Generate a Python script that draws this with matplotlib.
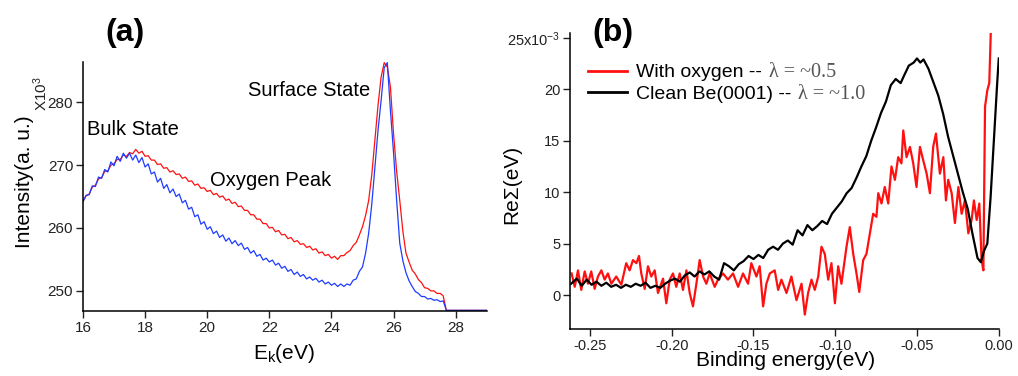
import numpy as np
import matplotlib
matplotlib.use("Agg")
import matplotlib.pyplot as plt

plt.rcParams['font.family'] = ['Liberation Sans', 'DejaVu Sans']
plt.rcParams['mathtext.fontset'] = 'custom'
plt.rcParams['mathtext.rm'] = 'Liberation Sans'
plt.rcParams['mathtext.it'] = 'Liberation Sans:italic'
plt.rcParams['axes.unicode_minus'] = False

# ---------------- Panel (a): photoemission intensity vs kinetic energy ----------------
energy_a = np.round(np.arange(16.0, 29.05, 0.1), 1)

intensity_oxygen = [
    264.2, 265.1, 265.4, 266.5, 266.8, 267.8, 268.0, 269.0, 269.1, 270.0,
    270.2, 270.9, 270.9, 271.6, 271.4, 272.0, 271.8, 272.5, 271.9, 272.2,
    271.4, 271.5, 270.8, 270.8, 270.1, 270.2, 269.5, 269.6, 268.9, 269.1,
    268.5, 268.6, 267.9, 268.1, 267.4, 267.5, 266.8, 267.0, 266.3, 266.4,
    265.8, 266.0, 265.3, 265.5, 264.9, 265.1, 264.4, 264.6, 263.9, 264.1,
    263.4, 263.5, 262.8, 262.8, 262.1, 262.1, 261.4, 261.4, 260.7, 260.7,
    260.0, 260.1, 259.4, 259.6, 258.9, 259.0, 258.3, 258.5, 257.8, 258.0,
    257.4, 257.5, 256.9, 257.1, 256.5, 256.7, 256.0, 256.2, 255.6, 255.8,
    255.2, 255.5, 255.0, 255.6, 255.6, 256.1, 256.4, 257.2, 257.7, 258.9,
    260.2, 262.0, 264.4, 268.5, 274.0, 279.5, 284.0, 286.3, 285.6, 282.4,
    275.0, 269.0, 264.4, 259.5, 256.0, 254.6, 253.3, 252.7, 251.8, 251.3,
    250.5, 250.4, 250.0, 250.0, 249.6, 249.6, 249.2, 246.9, 246.9, 246.9,
    246.9, 246.9, 246.9, 246.9, 246.9, 246.9, 246.9, 246.9, 246.9, 246.9,
    246.9,
]

intensity_clean = [
    264.2, 265.2, 265.3, 266.7, 266.6, 268.1, 267.9, 269.3, 268.9, 270.5,
    269.9, 271.4, 270.6, 271.9, 271.1, 271.9, 270.8, 271.6, 270.4, 271.2,
    269.7, 270.2, 268.6, 268.9, 267.3, 267.9, 266.3, 266.9, 265.6, 266.2,
    265.0, 265.4, 264.0, 264.4, 263.0, 263.3, 261.8, 262.1, 260.6, 261.0,
    259.8, 260.2, 259.1, 259.5, 258.5, 258.9, 257.9, 258.4, 257.5, 258.0,
    257.2, 257.6, 256.6, 256.9, 256.0, 256.4, 255.5, 255.8, 254.9, 255.2,
    254.6, 254.9, 254.1, 254.4, 253.6, 253.9, 253.1, 253.4, 252.6, 253.0,
    252.3, 252.6, 251.9, 252.2, 251.7, 252.0, 251.4, 251.7, 251.1, 251.4,
    250.9, 251.2, 250.7, 251.1, 250.7, 251.1, 250.9, 251.7, 251.9, 253.1,
    253.8, 256.0, 259.2, 263.8, 269.7, 275.5, 280.3, 285.5, 286.3, 278.7,
    272.0, 264.4, 257.6, 254.8, 252.9, 251.6, 250.7, 249.9, 249.6, 249.1,
    249.1, 248.7, 248.8, 248.5, 248.6, 248.3, 248.4, 246.9, 246.9, 246.9,
    246.9, 246.9, 246.9, 246.9, 246.9, 246.9, 246.9, 246.9, 246.9, 246.9,
    246.9,
]

xticks_a = [16, 18, 20, 22, 24, 26, 28]
yticks_a = [250, 260, 270, 280]

# ---------------- Panel (b): real part of the self-energy ----------------
energy_oxygen_b = [
    -0.2612, -0.2593, -0.2573, -0.2553, -0.2532, -0.2512, -0.2492, -0.2471, -0.2451, -0.2430,
    -0.2410, -0.2390, -0.2369, -0.2339, -0.2308, -0.2278, -0.2257, -0.2237, -0.2216, -0.2200,
    -0.2186, -0.2165, -0.2145, -0.2125, -0.2104, -0.2084, -0.2053, -0.2033, -0.2012, -0.1992,
    -0.1972, -0.1951, -0.1931, -0.1910, -0.1890, -0.1870, -0.1849, -0.1829, -0.1808, -0.1788,
    -0.1768, -0.1737, -0.1717, -0.1686, -0.1656, -0.1625, -0.1594, -0.1564, -0.1533, -0.1513,
    -0.1482, -0.1462, -0.1441, -0.1421, -0.1400, -0.1370, -0.1349, -0.1329, -0.1298, -0.1268,
    -0.1237, -0.1206, -0.1186, -0.1166, -0.1145, -0.1125, -0.1104, -0.1084, -0.1064, -0.1043,
    -0.1023, -0.1002, -0.0982, -0.0962, -0.0931, -0.0911, -0.0890, -0.0870, -0.0853, -0.0829,
    -0.0809, -0.0788, -0.0768, -0.0748, -0.0737, -0.0717, -0.0697, -0.0676, -0.0656, -0.0635,
    -0.0615, -0.0595, -0.0584, -0.0564, -0.0543, -0.0523, -0.0503, -0.0482, -0.0462, -0.0441,
    -0.0421, -0.0401, -0.0384, -0.0360, -0.0339, -0.0323, -0.0309, -0.0288, -0.0268, -0.0247,
    -0.0227, -0.0207, -0.0186, -0.0166, -0.0152, -0.0135, -0.0119, -0.0105, -0.0094, -0.0084,
    -0.0070, -0.0058, -0.0049,
]
resigma_oxygen = [
    2.1, 0.8, 2.4, 0.5, 2.3, 1.1, 2.3, 0.6, 1.8, 2.4,
    1.5, 2.1, 1.1, 1.8, 1.0, 3.1, 2.4, 3.4, 3.1, 3.8,
    2.1, 0.6, 2.8, 1.8, 2.4, 0.2, 1.6, -0.8, 1.5, 2.1,
    0.8, 2.1, 0.5, 2.4, 0.2, -1.1, 1.1, 3.4, 1.8, 1.1,
    2.1, 0.8, 1.5, 2.1, 1.5, 2.1, 0.8, 2.1, 1.1, 3.1,
    1.8, 2.8, -1.1, 1.1, 2.1, 2.4, 0.5, 1.5, 0.2, 1.8,
    -0.5, 1.1, -1.9, 0.2, 1.5, 0.5, 1.8, 4.7, 4.0, 1.5,
    3.1, -0.8, 2.8, 1.1, 4.7, 6.6, 4.0, 2.1, 0.3, 3.4,
    4.0, 6.0, 7.9, 7.6, 9.9, 8.9, 10.5, 8.9, 12.5, 11.2,
    13.4, 12.8, 16.0, 13.4, 14.4, 12.8, 10.5, 14.4, 13.1, 11.8,
    9.9, 14.4, 15.7, 11.8, 13.4, 9.2, 11.2, 9.9, 7.0, 10.5,
    7.9, 9.2, 6.0, 7.3, 9.2, 7.3, 8.9, 3.4, 2.4, 18.3,
    19.9, 20.6, 25.4,
]

energy_clean_b = [
    -0.2615, -0.258, -0.255, -0.252, -0.249, -0.246, -0.243, -0.240, -0.237, -0.234,
    -0.231, -0.228, -0.225, -0.222, -0.219, -0.216, -0.213, -0.210, -0.207, -0.204,
    -0.201, -0.198, -0.195, -0.192, -0.189, -0.186, -0.183, -0.180, -0.177, -0.174,
    -0.171, -0.168, -0.165, -0.162, -0.159, -0.156, -0.153, -0.150, -0.147, -0.144,
    -0.141, -0.138, -0.135, -0.132, -0.129, -0.126, -0.123, -0.120, -0.117, -0.114,
    -0.111, -0.108, -0.105, -0.102, -0.099, -0.096, -0.093, -0.090, -0.087, -0.084,
    -0.081, -0.078, -0.075, -0.072, -0.069, -0.066, -0.063, -0.060, -0.058, -0.055,
    -0.052, -0.050, -0.048, -0.046, -0.043, -0.040, -0.037, -0.034, -0.031, -0.028,
    -0.025, -0.022, -0.019, -0.016, -0.013, -0.011, -0.009, -0.007, -0.005, -0.003,
    -0.001, 0.000,
]
resigma_clean = [
    1.1, 1.6, 0.9, 1.5, 1.0, 1.3, 0.9, 1.2, 0.8, 1.0,
    0.7, 1.0, 0.8, 1.1, 0.9, 1.2, 0.7, 0.9, 0.7, 1.1,
    1.4, 1.6, 1.3, 1.9, 2.2, 1.8, 2.3, 2.0, 2.3, 1.8,
    1.5, 3.1, 2.8, 2.4, 3.0, 3.3, 3.8, 3.5, 3.9, 3.6,
    4.4, 4.7, 4.4, 5.0, 5.3, 4.9, 6.3, 5.8, 6.8, 6.3,
    6.7, 7.2, 6.9, 7.9, 8.5, 9.1, 9.9, 10.4, 11.4, 12.5,
    13.5, 15.0, 16.3, 17.7, 18.8, 20.4, 21.0, 20.6, 21.3, 22.3,
    22.6, 23.0, 22.6, 22.9, 22.0, 20.7, 19.4, 17.6, 15.4, 13.6,
    11.8, 10.0, 8.4, 5.9, 3.6, 3.2, 4.3, 5.0, 9.5, 15.0,
    20.5, 23.0,
]

xticks_b = [-0.25, -0.20, -0.15, -0.10, -0.05, 0.00]
yticks_b = [0, 5, 10, 15, 20, 25]
ytick_labels_b = ['0', '5', '10', '15', '20', r'25x10$^{-3}$']

RED = '#ff1010'
BLUE = '#1e3cff'

fig = plt.figure(figsize=(10.18, 3.76), dpi=100)


def style_axes(ax, label_size):
    for side in ('top', 'right'):
        ax.spines[side].set_visible(False)
    for side in ('left', 'bottom'):
        ax.spines[side].set_linewidth(1.1)
    ax.tick_params(direction='out', length=5, width=1.0, labelsize=label_size,
                   colors='#222222', pad=2)


# Panel (a)
ax1 = fig.add_axes([0.0815, 0.1729, 0.3966, 0.6622])
ax1.plot(energy_a, intensity_oxygen, color=RED, lw=0.9)
ax1.plot(energy_a, intensity_clean, color=BLUE, lw=0.9)
ax1.set_xlim(16, 29)
ax1.set_ylim(246.8, 286.4)
ax1.set_xticks(xticks_a)
ax1.set_yticks(yticks_a)
style_axes(ax1, 11)
ax1.set_xlabel(r'E$_{\rm k}$(eV)', fontsize=15)
ax1.xaxis.set_label_coords(0.279, 0.09, transform=fig.transFigure)
ax1.set_ylabel('Intensity(a. u.)', fontsize=15)
ax1.yaxis.set_label_coords(0.033, 0.517, transform=fig.transFigure)
fig.text(0.040, 0.75, r'X10$^{3}$', rotation=90, ha='center', va='center',
         fontsize=11, color='#222222')
ax1.text(16.13, 275.6, 'Bulk State', fontsize=14.5, ha='left', va='center')
ax1.text(20.09, 267.6, 'Oxygen Peak', fontsize=14.5, ha='left', va='center')
ax1.text(21.3, 281.9, 'Surface State', fontsize=14.5, ha='left', va='center')
fig.text(125 / 1018, 1 - 33 / 376, '(a)', fontsize=23, fontweight='bold',
         ha='center', va='center')

# Panel (b)
ax2 = fig.add_axes([0.5599, 0.125, 0.4212, 0.788])
line_o, = ax2.plot(energy_oxygen_b, resigma_oxygen, color=RED, lw=1.6)
line_c, = ax2.plot(energy_clean_b, resigma_clean, color='black', lw=1.6)
ax2.set_xlim(-0.2622, 0.0)
ax2.set_ylim(-3.3, 25.5)
ax2.set_xticks(xticks_b)
ax2.set_xticklabels([f'{v:.2f}' for v in xticks_b])
ax2.set_yticks(yticks_b)
ax2.set_yticklabels(ytick_labels_b)
style_axes(ax2, 10.5)
ax2.set_xlabel('Binding energy(eV)', fontsize=15)
ax2.xaxis.set_label_coords(0.772, 0.066, transform=fig.transFigure)
ax2.set_ylabel('Re\u03a3(eV)', fontsize=15)
ax2.yaxis.set_label_coords(0.512, 0.51, transform=fig.transFigure)
fig.text(613 / 1018, 1 - 33 / 376, '(b)', fontsize=23, fontweight='bold',
         ha='center', va='center')

leg = ax2.legend([line_o, line_c], ['With oxygen --', 'Clean Be(0001) --'],
                 loc='upper left', bbox_to_anchor=(0.042, 0.895), frameon=False,
                 fontsize=14, handlelength=2.0, handletextpad=0.45,
                 labelspacing=0.18, borderpad=0, borderaxespad=0)
for h in leg.legend_handles:
    h.set_linewidth(2.0)

# Append the coupling constants in a serif face after each legend entry
fig.canvas.draw()
renderer = fig.canvas.get_renderer()
inv = fig.transFigure.inverted()
for txt, lam in zip(leg.get_texts(), ['\u03bb = ~0.5', '\u03bb = ~1.0']):
    bb = txt.get_window_extent(renderer)
    x0, y0 = inv.transform((bb.x1 + 7, (bb.y0 + bb.y1) / 2))
    fig.text(x0, y0, lam, fontsize=14.5, family=['Liberation Serif', 'DejaVu Serif'],
             color='#555555', ha='left', va='center')

fig.savefig('out.png', dpi=100)
